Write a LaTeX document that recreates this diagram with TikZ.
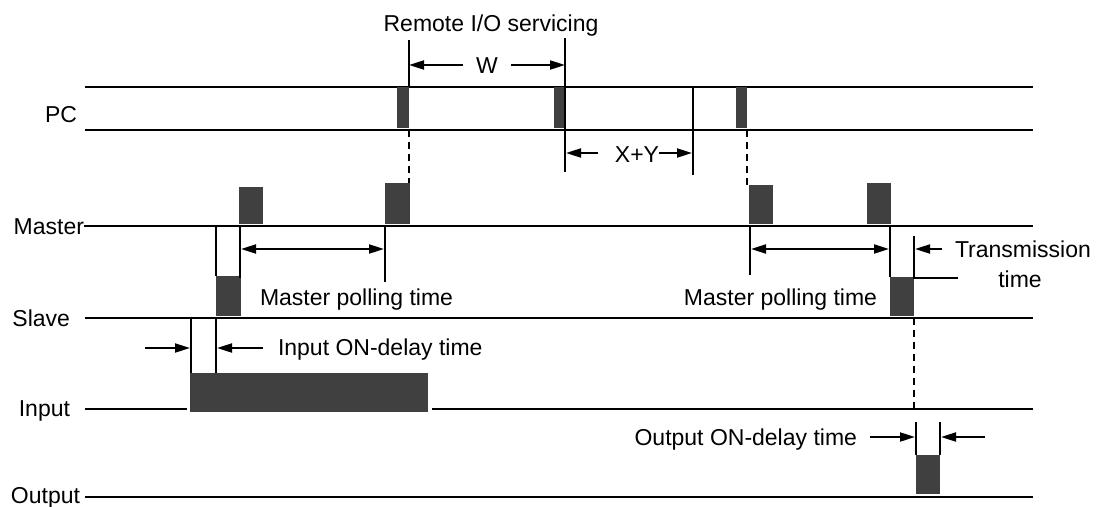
\documentclass[tikz,border=0pt]{standalone}
\usepackage{fontspec}
\setmainfont{Liberation Sans}
\usetikzlibrary{arrows.meta}
\definecolor{pulsegray}{HTML}{404040}
\begin{document}
\begin{tikzpicture}[x=1pt,y=-1pt,
  line width=2pt,
  every node/.style={inner sep=0pt,outer sep=0pt,font=\fontsize{23}{26}\selectfont},
  pulse/.style={fill=pulsegray,draw=none},
  tline/.style={line width=2pt},
  dimarrow/.style={line width=2pt,-{Triangle[length=15pt,width=9pt]}},
  dashline/.style={line width=2pt,dash pattern=on 7pt off 5pt},
  lbl/.style={anchor=base east},
  txt/.style={anchor=base west}]
\useasboundingbox (0,0) rectangle (1100,506);

% signal labels
\node[lbl] (pc) at (77,122) {PC};
\node[lbl] (master) at (84,234) {Master};
\node[lbl] (slave) at (70,326) {Slave};
\node[lbl] (input) at (70,416) {Input};
\node[lbl] (output) at (80,503) {Output};

% horizontal signal lines
\draw[tline] (85,87) -- (1033,87);
\draw[tline] (85,130) -- (1033,130);
\draw[tline] (master.base east) ++(0,-8) coordinate (m0) -- (1033,226);
\draw[tline] (85,318) -- (1033,318);
\draw[tline] (85,409) -- (187,409);
\draw[tline] (432,409) -- (1033,409);
\draw[tline] (85,497) -- (1033,497);

% PC pulses
\fill[pulse] (397,87) rectangle (409,128);
\fill[pulse] (554,87) rectangle (565,128);
\fill[pulse] (736,87) rectangle (747,128);

% Master pulses
\fill[pulse] (239,187) rectangle (263,224);
\fill[pulse] (385,183) rectangle (410,224);
\fill[pulse] (749,185) rectangle (773,224);
\fill[pulse] (867,183) rectangle (891,224);

% Slave pulses
\fill[pulse] (216,276) rectangle (241,316);
\fill[pulse] (890,277) rectangle (914,316);

% Input pulse
\fill[pulse] (190,373) rectangle (428,412);

% Output pulse
\fill[pulse] (916,455) rectangle (940,494);

% Remote I/O servicing
\node[anchor=base] (remote) at (491,31) {Remote I/O servicing};
\coordinate (w1top) at (409,40);
\coordinate (w1bot) at (409,87);
\coordinate (w2top) at (565,38);
\coordinate (w2bot) at (565,172);
\draw (w1top) -- (w1bot);
\draw (w2top) -- (w2bot);
\node[anchor=base] (w) at (487,73) {W};
\coordinate (wl) at (409,65);
\coordinate (wr) at (565,65);
\draw[dimarrow] (463,65) -- (wl);
\draw[dimarrow] (511,65) -- (wr);

% X+Y
\coordinate (xytop) at (693,87);
\coordinate (xybot) at (693,175);
\draw (xytop) -- (xybot);
\node[anchor=base] (xy) at (637,162) {X+Y};
\draw[dimarrow] (598,153) -- (566,153);
\draw[dimarrow] (xy.east |- 0,153) -- (692,153);

% dashed links PC -> Master
\draw[dashline] (409,130) -- (409,183);
\draw[dashline] (747,130) -- (747,185);

% left master polling
\draw (216,226) -- (216,276);
\draw (240,226) -- (240,278);
\draw (385,226) -- (385,282);
\draw[dimarrow] (313,249) -- (241,249);
\draw[dimarrow] (313,249) -- (384,249);
\node[txt] (mpt1) at (260,305) {Master polling time};

% right master polling
\draw (750,226) -- (750,275);
\draw (890,226) -- (890,277);
\draw[dimarrow] (820,249) -- (751,249);
\draw[dimarrow] (820,249) -- (889,249);
\node[anchor=base east] (mpt2) at (877,305) {Master polling time};

% transmission time
\draw (914,236) -- (914,278) -- (958,278);
\draw[dimarrow] (942,249) -- (915,249);
\node[txt] (trans) at (955,257) {Transmission};
\node[anchor=base] (ttime) at (1020,287) {time};

% dashed Slave -> Input
\draw[dashline] (914,318) -- (914,409);

% input ON-delay
\draw (191,318) -- (191,373);
\draw (216,318) -- (216,373);
\draw[dimarrow] (145,348) -- (190,348);
\draw[dimarrow] (263,348) -- (217,348);
\node[txt] (ion) at (278,355) {Input ON-delay time};

% output ON-delay
\draw (916,422) -- (916,455);
\draw (940,422) -- (940,455);
\draw[dimarrow] (870,437) -- (915,437);
\draw[dimarrow] (985,437) -- (941,437);
\node[anchor=base east] (oon) at (857,445) {Output ON-delay time};
\end{tikzpicture}
\end{document}
